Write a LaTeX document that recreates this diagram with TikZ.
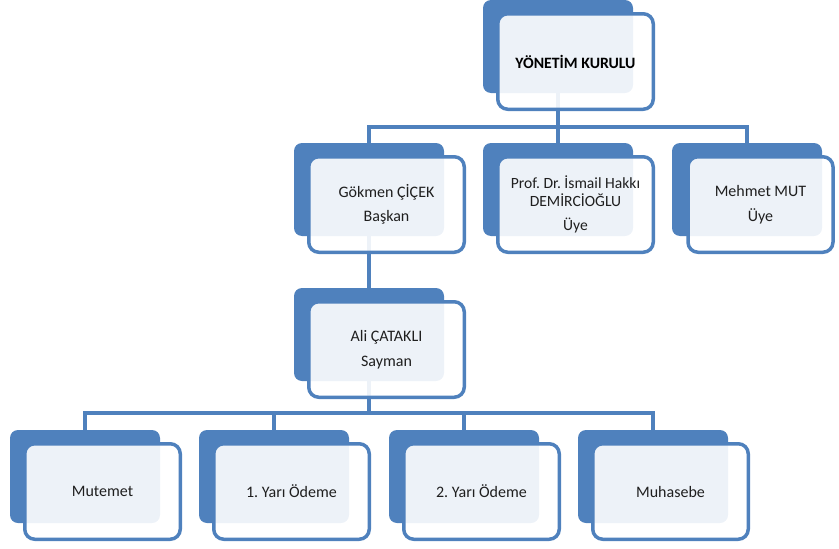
\documentclass[tikz,border=0pt]{standalone}
\usepackage{fontspec}
\setmainfont{Carlito}
\usetikzlibrary{backgrounds}
\frenchspacing
\definecolor{obl}{HTML}{4F81BD}
\definecolor{txt}{HTML}{1F1F1F}
\tikzset{
 backbox/.style={fill=obl, rounded corners=8pt, minimum width=150pt, minimum height=93pt, inner sep=0pt, outer sep=0pt, anchor=north west},
 frontbox/.style={draw=obl, line width=3.5pt, fill=white, fill opacity=0.9, text opacity=1, rounded corners=10pt, minimum width=155.5pt, minimum height=95.5pt, inner sep=0pt, outer sep=0pt, anchor=north west, align=center, font=\frenchspacing\fontsize{16}{24.5}\selectfont, text=txt},
 conn/.style={draw=obl, line width=3.5pt, line join=miter}
}
\begin{document}
\begin{tikzpicture}[x=1pt,y=-1pt]
\useasboundingbox (0,0) rectangle (839,549);
% back boxes
\node[backbox] (tb) at (483,0) {};
\node[backbox] (gb) at (294,143) {};
\node[backbox] (pb) at (483,143) {};
\node[backbox] (mb) at (672,143) {};
\node[backbox] (ab) at (294,288) {};
\node[backbox] (b1) at (10,430) {};
\node[backbox] (b2) at (199,430) {};
\node[backbox] (b3) at (389,430) {};
\node[backbox] (b4) at (578,430) {};
% front boxes
\node[frontbox, font=\bfseries\fontsize{15.8}{20}\selectfont, text=black] (tf) at ([shift={(14.75,13.75)}]tb.north west) {YÖNETİM KURULU};
\node[frontbox] (gf) at ([shift={(14.75,13.75)}]gb.north west) {Gökmen ÇİÇEK\\Başkan};
\node[frontbox, font=\frenchspacing\fontsize{15.6}{18}\selectfont] (pf) at ([shift={(14.75,13.75)}]pb.north west) {Prof. Dr. İsmail Hakkı\\DEMİRCİOĞLU\\[6pt]Üye};
\node[frontbox, minimum width=145pt] (mf) at ([shift={(16,13.75)}]mb.north west) {Mehmet MUT\\Üye};
\node[frontbox] (af) at ([shift={(14.75,13.75)}]ab.north west) {Ali ÇATAKLI\\Sayman};
\node[frontbox] (f1) at ([shift={(14.75,13.75)}]b1.north west) {Mutemet};
\node[frontbox] (f2) at ([shift={(14.75,13.75)}]b2.north west) {1. Yarı Ödeme};
\node[frontbox] (f3) at ([shift={(14.75,13.75)}]b3.north west) {2. Yarı Ödeme};
\node[frontbox] (f4) at ([shift={(14.75,13.75)}]b4.north west) {Muhasebe};
% connectors (behind)
\coordinate (bus1) at (tb.south |- 0,127);
\coordinate (bus2) at (ab.south |- 0,413);
\begin{scope}[on background layer]
\draw[conn] (tb.south) -- (bus1);
\draw[conn] (gb.north) |- (bus1) -| (mb.north);
\draw[conn] (pb.north) -- (pb.north |- bus1);
\draw[conn] (gb.south) -- (ab.north);
\draw[conn] (ab.south) -- (bus2);
\draw[conn] (b1.north) |- (bus2) -| (b4.north);
\draw[conn] (b2.north) -- (b2.north |- bus2);
\draw[conn] (b3.north) -- (b3.north |- bus2);
\end{scope}
\end{tikzpicture}
\end{document}
